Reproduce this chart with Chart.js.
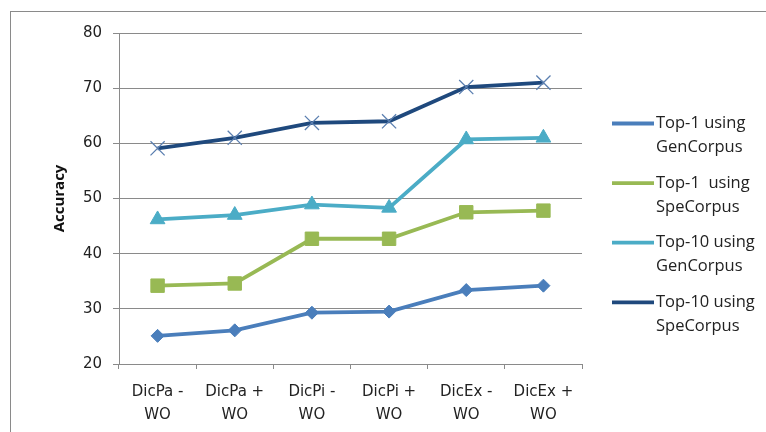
<!DOCTYPE html>
<html>
<head>
<meta charset="utf-8">
<script src="https://cdn.jsdelivr.net/npm/chart.js@4/dist/chart.umd.min.js"></script>
<style>
  html, body { margin: 0; padding: 0; background: #fff; }
  #c { display: block; }
</style>
</head>
<body>
<canvas id="c" width="766" height="432"></canvas>
<script>
const categories = [['DicPa -', 'WO'], ['DicPa +', 'WO'], ['DicPi -', 'WO'], ['DicPi +', 'WO'], ['DicEx -', 'WO'], ['DicEx +', 'WO']];
const seriesLabels = [['Top-1 using', 'GenCorpus'], ['Top-1  using', 'SpeCorpus'], ['Top-10 using', 'GenCorpus'], ['Top-10 using', 'SpeCorpus']];
const top1Gen = [25.1, 26.1, 29.3, 29.5, 33.4, 34.2];
const top1Spe = [34.2, 34.6, 42.7, 42.7, 47.5, 47.8];
const top10Gen = [46.2, 47.0, 48.9, 48.3, 60.7, 61.0];
const top10Spe = [59.1, 61.0, 63.7, 64.0, 70.2, 71.0];
const yTicks = [20, 30, 40, 50, 60, 70, 80];

const colors = ['#4A7EBB', '#98B954', '#4BACC6', '#1F497D'];

function ds(label, data, color, style, radius, extra) {
  return Object.assign({
    label: label.join(' '),
    legendLines: label,
    data: data,
    borderColor: color,
    backgroundColor: color,
    pointBackgroundColor: color,
    pointBorderColor: color,
    borderWidth: 3.8,
    pointStyle: style,
    pointRadius: radius,
    pointHoverRadius: radius,
    pointBorderWidth: 1,
    tension: 0,
    fill: false
  }, extra || {});
}

const datasets = [
  ds(seriesLabels[0], top1Gen, colors[0], 'rectRot', 6.5),
  ds(seriesLabels[1], top1Spe, colors[1], 'rect', 9.5),
  ds(seriesLabels[2], top10Gen, colors[2], 'triangle', 8.5),
  ds(seriesLabels[3], top10Spe, colors[3], 'crossRot', 10, {pointBorderColor: '#5B7FB0', pointBorderWidth: 1.3})
];

const frame = {
  id: 'frame',
  beforeDraw(chart) {
    const ctx = chart.ctx;
    ctx.save();
    ctx.fillStyle = '#fff';
    ctx.fillRect(0, 0, chart.width, chart.height);
    ctx.strokeStyle = '#8a8a8a';
    ctx.lineWidth = 1;
    ctx.strokeRect(10.5, 11.5, 900, 600);
    ctx.restore();
  }
};

const legendPlugin = {
  id: 'customLegend',
  afterDraw(chart) {
    const ctx = chart.ctx;
    ctx.save();
    const x0 = 612, x1 = 654, mx = 633, tx = 656;
    const y0 = 123.5, step = 59.6, lh = 24;
    chart.data.datasets.forEach((d, i) => {
      const y = y0 + i * step;
      ctx.strokeStyle = d.borderColor;
      ctx.lineWidth = d.borderWidth;
      ctx.beginPath();
      ctx.moveTo(x0, y);
      ctx.lineTo(x1, y);
      ctx.stroke();
      ctx.fillStyle = d.pointBackgroundColor;
      ctx.strokeStyle = d.pointBorderColor;
      ctx.lineWidth = d.pointBorderWidth;
      Chart.helpers.drawPoint(ctx, {pointStyle: d.pointStyle, rotation: 0, borderWidth: d.pointBorderWidth}, mx, y, d.pointRadius * 0.85);
      ctx.fillStyle = '#222';
      ctx.font = '16.5px "Open Sans"';
      ctx.textBaseline = 'middle';
      ctx.textAlign = 'left';
      d.legendLines.forEach((t, j) => ctx.fillText(t, tx, y + j * lh));
    });
    ctx.restore();
  }
};

new Chart(document.getElementById('c'), {
  type: 'line',
  data: { labels: categories, datasets: datasets },
  options: {
    responsive: false,
    devicePixelRatio: 1,
    animation: false,
    layout: { padding: { left: 0, right: 184, top: 33, bottom: 0 } },
    plugins: {
      legend: { display: false },
      tooltip: { enabled: false }
    },
    scales: {
      x: {
        offset: true,
        grid: { offset: true, drawOnChartArea: false, tickLength: 5, color: '#8a8a8a', lineWidth: 1 },
        border: { color: '#8a8a8a', width: 1 },
        ticks: { color: '#222', font: { family: 'DejaVu Sans', size: 15, lineHeight: 1.55 }, padding: 11, maxRotation: 0, autoSkip: false },
        afterFit(s) { s.height = 68; }
      },
      y: {
        min: 20, max: 80,
        afterBuildTicks(s) { s.ticks = yTicks.map(v => ({ value: v })); },
        grid: { tickLength: 6, color: '#8a8a8a', lineWidth: 1 },
        border: { color: '#8a8a8a', width: 1 },
        ticks: { color: '#222', font: { family: 'DejaVu Sans', size: 15 }, padding: 11 },
        title: { display: true, text: 'Accuracy', color: '#111', font: { family: 'Open Sans', size: 15, weight: 'bold' }, padding: { top: 51, bottom: 0 } },
        afterFit(s) { s.width = 119; }
      }
    }
  },
  plugins: [frame, legendPlugin]
});
</script>
</body>
</html>
